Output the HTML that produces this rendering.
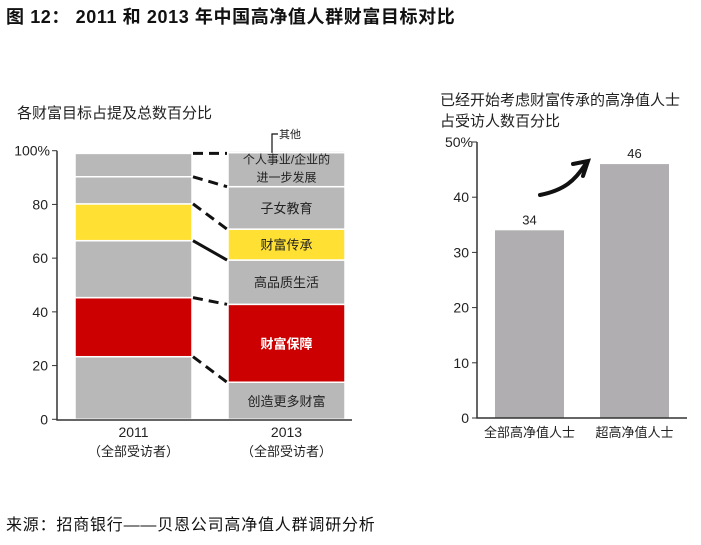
<!DOCTYPE html>
<html><head><meta charset="utf-8"><style>
body{margin:0;background:#fff;width:701px;height:540px;overflow:hidden}
svg{font-family:"Liberation Sans","Noto Sans CJK SC",sans-serif}
</style></head><body>
<svg id="c" width="701" height="540">
<text x="6" y="23" font-size="18" font-weight="bold" fill="#111" letter-spacing="0.6">图 12： 2011 和 2013 年中国高净值人群财富目标对比</text>
<text x="17" y="118" font-size="15" fill="#222">各财富目标占提及总数百分比</text>
<text x="440" y="105" font-size="15" fill="#222">已经开始考虑财富传承的高净值人士</text>
<text x="440" y="126" font-size="15" fill="#222">占受访人数百分比</text>
<text x="6" y="530" font-size="16" fill="#111" letter-spacing="0.8">来源：招商银行——贝恩公司高净值人群调研分析</text>
<g id="left"></g><g id="right"></g>
<path d="M540,195 C565,190 575,180 585,165" stroke="#111" stroke-width="4" fill="none" stroke-linecap="round"/>
<path d="M573,164 L588,161 L583,176" stroke="#111" stroke-width="4" fill="none" stroke-linecap="round"/>
</svg>
<script>
const years=["2011","2013"];
const segLabels=["创造更多财富","财富保障","高品质生活","财富传承","子女教育","个人事业/企业的进一步发展","其他"];
const v2011=[23.3,22.0,21.2,13.7,10.1,8.7,0];
const v2013=[13.8,29.0,16.5,11.5,15.8,12.7,0.6];
const leftTicks=[0,20,40,60,80,100];
const rightCats=["全部高净值人士","超高净值人士"];
const rightVals=[34,46];
const rightTicks=[0,10,20,30,40,50];
const NS="http://www.w3.org/2000/svg";
function mk(p,t,a){const e=document.createElementNS(NS,t);for(const k in a)e.setAttribute(k,a[k]);p.appendChild(e);return e;}
const segColors=["#b8b8b8","#cc0000","#b8b8b8","#ffe033","#b8b8b8","#b8b8b8","#b8b8b8"];
const L=document.getElementById('left');
const ly=v=>419.3-v*2.686;
const barX=[75,228],bw=117;
[v2011,v2013].forEach((vals,bi)=>{let cum=0;vals.forEach((v,i)=>{
 const y0=ly(cum),y1=ly(cum+v);
 const r=mk(L,'rect',{x:barX[bi],y:y1,width:bw,height:Math.max(0,y0-y1),fill:segColors[i],stroke:'#fff','stroke-width':1.5});
 
 
 if(bi===1&&i<6){const lab=segLabels[i];const cy=(y0+y1)/2;
  if(i===5){[["个人事业/企业的",-6],["进一步发展",12]].forEach(([s,d])=>{const t=mk(L,'text',{x:barX[1]+bw/2,y:cy+d,'text-anchor':'middle','font-size':12,fill:'#222'});t.textContent=s;
   
   });}
  else{const t=mk(L,'text',{x:barX[1]+bw/2,y:cy+5,'text-anchor':'middle','font-size':13,fill:i===1?'#fff':'#222','font-weight':i===1?'bold':'normal'});t.textContent=lab;
   
   }}
 cum+=v;});});
let c1=0,c2=0;
for(let i=0;i<6;i++){c1+=v2011[i];c2+=v2013[i];
 const ln=mk(L,'line',{x1:barX[0]+bw+1,y1:ly(i===5?99:c1),x2:barX[1]-1,y2:ly(i===5?99:c2),stroke:'#111','stroke-width':3,'stroke-dasharray':i===2?'none':'10,6'});
 
 }
const o=mk(L,'path',{d:`M272,${ly(99.2)} L272,134 L278,134`,stroke:'#111','stroke-width':1.2,fill:'none'});


const ot=mk(L,'text',{x:279,y:138,'font-size':11,fill:'#222'});ot.textContent='其他';


let ax=mk(L,'path',{d:`M57,${ly(100)} L57,420 L352,420`,stroke:'#333','stroke-width':1.5,fill:'none'});


leftTicks.forEach(t=>{const tk=mk(L,'line',{x1:52,x2:57,y1:ly(t),y2:ly(t),stroke:'#333'});
 
 
 const tx=mk(L,'text',{x:t===100?50:48,y:ly(t)+5,'text-anchor':'end','font-size':14,fill:'#222'});tx.textContent=t===100?'100%':t;
 
 });
years.forEach((y,i)=>{const cx=barX[i]+bw/2;
 const a=mk(L,'text',{x:cx,y:437,'text-anchor':'middle','font-size':14,fill:'#222'});a.textContent=y;
 
 
 const b=mk(L,'text',{x:cx,y:456,'text-anchor':'middle','font-size':13,fill:'#222'});b.textContent='（全部受访者）';
 
 });
const R=document.getElementById('right');
const ry=v=>418-v*5.52;
const rx=[495,600],rw=69;
rightVals.forEach((v,i)=>{const r=mk(R,'rect',{x:rx[i],y:ry(v),width:rw,height:418-ry(v),fill:'#b0aeb0'});
 
 
 const t=mk(R,'text',{x:rx[i]+rw/2,y:ry(v)-6,'text-anchor':'middle','font-size':13,fill:'#222'});t.textContent=v;
 
 
 const c=mk(R,'text',{x:rx[i]+rw/2,y:437,'text-anchor':'middle','font-size':13,fill:'#222'});c.textContent=rightCats[i];
 
 });
ax=mk(R,'path',{d:`M477,${ry(50)} L477,418 L687,418`,stroke:'#333','stroke-width':1.5,fill:'none'});


rightTicks.forEach(t=>{const tk=mk(R,'line',{x1:472,x2:477,y1:ry(t),y2:ry(t),stroke:'#333'});
 
 
 const tx=mk(R,'text',{x:t===50?473:469,y:ry(t)+5,'text-anchor':'end','font-size':14,fill:'#222'});tx.textContent=t===50?'50%':t;
 
 });
</script>
</body></html>
